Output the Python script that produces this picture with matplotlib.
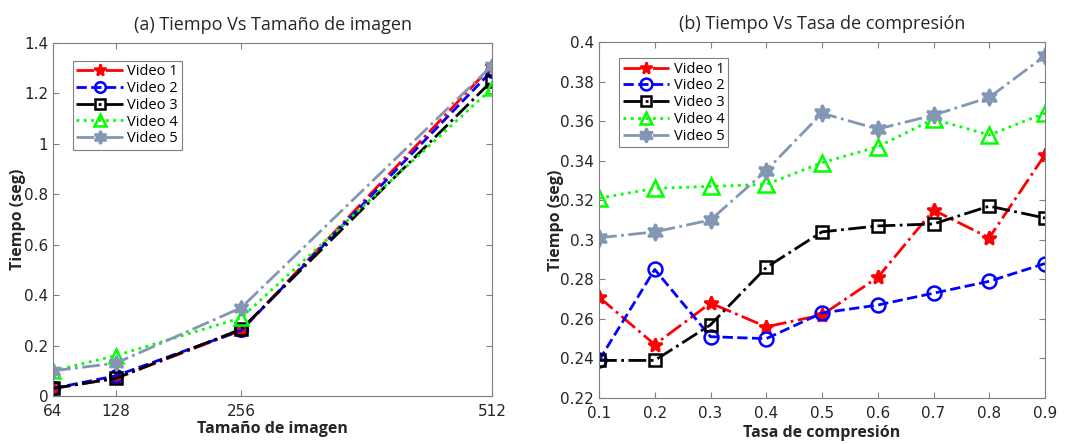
import matplotlib
matplotlib.use("Agg")
import matplotlib.pyplot as plt
from matplotlib.font_manager import FontProperties

plt.rcParams['font.family'] = ['DejaVu Sans']

# Panel (a)
sizes = [64, 128, 256, 512]
a_v1 = [0.03, 0.07, 0.26, 1.31]
a_v2 = [0.03, 0.08, 0.26, 1.29]
a_v3 = [0.03, 0.07, 0.265, 1.25]
a_v4 = [0.10, 0.16, 0.31, 1.22]
a_v5 = [0.10, 0.13, 0.35, 1.31]

# Panel (b)
rates = [0.1, 0.2, 0.3, 0.4, 0.5, 0.6, 0.7, 0.8, 0.9]
b_v1 = [0.271, 0.247, 0.268, 0.256, 0.262, 0.281, 0.315, 0.301, 0.343]
b_v2 = [0.239, 0.285, 0.251, 0.250, 0.263, 0.267, 0.273, 0.279, 0.288]
b_v3 = [0.239, 0.239, 0.257, 0.286, 0.304, 0.307, 0.308, 0.317, 0.311]
b_v4 = [0.321, 0.326, 0.327, 0.328, 0.339, 0.347, 0.361, 0.353, 0.364]
b_v5 = [0.301, 0.304, 0.310, 0.335, 0.364, 0.356, 0.363, 0.372, 0.393]

labels = ['Video 1', 'Video 2', 'Video 3', 'Video 4', 'Video 5']
x_ticks_a = [64, 128, 256, 512]
y_ticks_a = [0, 0.2, 0.4, 0.6, 0.8, 1, 1.2, 1.4]
y_labels_a = ['0', '0.2', '0.4', '0.6', '0.8', '1', '1.2', '1.4']
y_ticks_b = [0.22, 0.24, 0.26, 0.28, 0.3, 0.32, 0.34, 0.36, 0.38, 0.4]
y_labels_b = ['0.22', '0.24', '0.26', '0.28', '0.3', '0.32', '0.34', '0.36', '0.38', '0.4']
x_labels_b = ['0.1', '0.2', '0.3', '0.4', '0.5', '0.6', '0.7', '0.8', '0.9']

grey = '#8197b3'
styles = [
    dict(color='red', ls='-.', marker='*', mfc='red', mec='red'),
    dict(color='blue', ls='--', marker='o', mfc='none', mec='blue'),
    dict(color='black', ls='-.', marker='s', mfc='none', mec='black'),
    dict(color='#00ff00', ls=':', marker='^', mfc='none', mec='#00ff00'),
    dict(color=grey, ls='-.', marker=(6, 1, 0), mfc=grey, mec=grey),
]

fig = plt.figure(figsize=(10.68, 4.44), dpi=100)
ax1 = fig.add_axes([53/1068, 1-396/444, 439/1068, 353/444])
ax2 = fig.add_axes([599/1068, 1-398/444, 446/1068, 356/444])

tc = '#262626'
OS = 'Open Sans'

def style_ax(ax):
    for s in ax.spines.values():
        s.set_color('#808080')
        s.set_linewidth(0.8)
    ax.tick_params(direction='in', top=True, right=True, labelsize=11,
                   colors='#808080', labelcolor=tc, length=4)
    ax.tick_params(axis='x', pad=6)

for ys, st, lb in zip([a_v1, a_v2, a_v3, a_v4, a_v5], styles, labels):
    ms = {'*': 10, 'o': 9, 's': 8, '^': 10}.get(st['marker'], 11)
    ax1.plot(sizes, ys, lw=2, ms=ms, mew=1.8, label=lb, **st)
for ys, st, lb in zip([b_v1, b_v2, b_v3, b_v4, b_v5], styles, labels):
    ms = {'*': 10, 'o': 10, 's': 8, '^': 11}.get(st['marker'], 12)
    ax2.plot(rates, ys, lw=2, ms=ms, mew=1.8, label=lb, **st)

ax1.set_xlim(64, 512)
ax1.set_ylim(0, 1.4)
ax1.set_xticks(x_ticks_a)
ax1.set_yticks(y_ticks_a)
ax1.set_yticklabels(y_labels_a)
ax1.set_xlabel('Tamaño de imagen', fontsize=11.5, fontweight='bold', color=tc, family=OS)
ax1.set_ylabel('Tiempo (seg)', fontsize=11.5, fontweight='bold', color=tc, family=OS)
ax1.set_title('(a) Tiempo Vs Tamaño de imagen', fontsize=13, color=tc, pad=9, family=OS)
ax1.xaxis.set_label_coords(0.5, -0.072)
ax1.yaxis.set_label_coords(-0.062, 0.5)

ax2.set_xlim(0.1, 0.9)
ax2.set_ylim(0.22, 0.4)
ax2.set_xticks(rates)
ax2.set_xticklabels(x_labels_b)
ax2.set_yticks(y_ticks_b)
ax2.set_yticklabels(y_labels_b)
ax2.set_xlabel('Tasa de compresión', fontsize=11.5, fontweight='bold', color=tc, family=OS)
ax2.set_ylabel('Tiempo (seg)', fontsize=11.5, fontweight='bold', color=tc, family=OS)
ax2.set_title('(b) Tiempo Vs Tasa de compresión', fontsize=13, color=tc, pad=9, family=OS)
ax2.xaxis.set_label_coords(0.5, -0.077)
ax2.yaxis.set_label_coords(-0.078, 0.5)

for ax, anchor in [(ax1, (0.045, 0.95)), (ax2, (0.045, 0.955))]:
    style_ax(ax)
    leg = ax.legend(loc='upper left', bbox_to_anchor=anchor,
                    prop=FontProperties(family=OS, size=10.5),
                    fancybox=False, framealpha=1, edgecolor='#808080',
                    handlelength=3.2, handletextpad=0.3, borderpad=0.25,
                    labelspacing=0.12, borderaxespad=0, markerscale=0.85)
    leg.get_frame().set_linewidth(0.8)

fig.savefig('out.png', dpi=100, facecolor='white')
